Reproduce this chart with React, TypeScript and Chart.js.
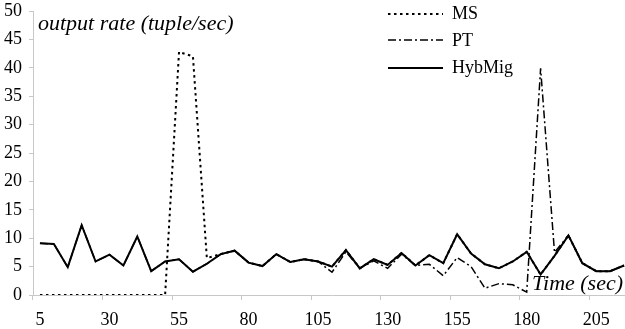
import React, { useEffect, useRef } from "react";
import { Chart, registerables } from "chart.js";

Chart.register(...registerables);

const times = [
  5, 10, 15, 20, 25, 30, 35, 40, 45, 50, 55, 60, 65, 70, 75, 80, 85, 90, 95, 100,
  105, 110, 115, 120, 125, 130, 135, 140, 145, 150, 155, 160, 165, 170, 175, 180,
  185, 190, 195, 200, 205, 210, 215,
];

const msValues = [
  0, 0, 0, 0, 0, 0, 0, 0, 0, 0, 42.8, 42.0, 6.5, 7.2, 7.8, 5.7, 5.1, 7.2, 5.8, 6.3,
  5.9, 5.0, 7.9, 4.7, 6.3, 5.3, 7.4, 5.2, 7.0, 5.6, 10.7, 7.3, 5.4, 4.7, 5.9, 7.6,
  3.6, 6.9, 10.5, 5.6, 4.2, 4.2, 5.2,
];

const ptValues = [
  9.1, 9.0, 4.9, 12.3, 5.9, 7.1, 5.2, 10.3, 4.2, 5.9, 6.3, 4.1, 5.5, 7.2, 7.8, 5.7,
  5.1, 7.2, 5.8, 6.3, 5.9, 4.0, 7.6, 4.7, 6.0, 4.7, 7.2, 5.2, 5.4, 3.4, 6.6, 5.0,
  1.2, 2.0, 1.8, 0.5, 39.9, 7.5, 10.5, 5.6, 4.2, 4.2, 5.2,
];

const hybValues = [
  9.1, 9.0, 4.9, 12.3, 5.9, 7.1, 5.2, 10.3, 4.2, 5.9, 6.3, 4.1, 5.5, 7.2, 7.8, 5.7,
  5.1, 7.2, 5.8, 6.3, 5.9, 5.0, 7.9, 4.7, 6.3, 5.3, 7.4, 5.2, 7.0, 5.6, 10.7, 7.3,
  5.4, 4.7, 5.9, 7.6, 3.6, 6.9, 10.5, 5.6, 4.2, 4.2, 5.2,
];

const seriesNames = ["MS", "PT", "HybMig"];
const yTitle = "output rate (tuple/sec)";
const xTitle = "Time (sec)";
const yMin = 0;
const yMax = 50;
const yStep = 5;
const labelEvery = 5;

const SERIF = '"Liberation Serif", "Times New Roman", serif';
const MS_DASH = [2.5, 3.5];
const PT_DASH = [8, 3, 2, 3];

const overlayPlugin = {
  id: "overlayText",
  afterDraw(chart: any) {
    const ctx = chart.ctx as CanvasRenderingContext2D;
    ctx.save();
    ctx.fillStyle = "#000";
    ctx.textBaseline = "alphabetic";
    ctx.textAlign = "left";
    ctx.font = `italic 22px ${SERIF}`;
    ctx.fillText(yTitle, 38, 30);
    ctx.fillText(xTitle, 532, 290);

    // legend
    const rows = [
      { name: seriesNames[0], dash: MS_DASH, width: 2, ly: 14, ty: 19 },
      { name: seriesNames[1], dash: PT_DASH, width: 1.5, ly: 40, ty: 46 },
      { name: seriesNames[2], dash: [] as number[], width: 2, ly: 68, ty: 73 },
    ];
    ctx.font = `18px ${SERIF}`;
    for (const r of rows) {
      ctx.beginPath();
      ctx.setLineDash(r.dash);
      ctx.lineWidth = r.width;
      ctx.strokeStyle = "#000";
      ctx.moveTo(388, r.ly);
      ctx.lineTo(443, r.ly);
      ctx.stroke();
      ctx.setLineDash([]);
      ctx.fillText(r.name, 452, r.ty);
    }
    ctx.restore();
  },
};

export default function App() {
  const canvasRef = useRef<HTMLCanvasElement | null>(null);

  useEffect(() => {
    const canvas = canvasRef.current;
    if (!canvas) return;
    const chart = new Chart(canvas, {
      type: "line",
      data: {
        labels: times.map(String),
        datasets: [
          {
            label: seriesNames[2],
            data: hybValues,
            borderColor: "#000",
            borderWidth: 2,
            pointRadius: 0,
            tension: 0,
            order: 0,
          },
          {
            label: seriesNames[1],
            data: ptValues,
            borderColor: "#000",
            borderWidth: 1.5,
            borderDash: PT_DASH,
            pointRadius: 0,
            tension: 0,
            order: 1,
          },
          {
            label: seriesNames[0],
            data: msValues,
            borderColor: "#000",
            borderWidth: 2,
            borderDash: MS_DASH,
            pointRadius: 0,
            tension: 0,
            order: 2,
          },
        ],
      },
      options: {
        responsive: false,
        animation: false,
        devicePixelRatio: 1,
        layout: { padding: { top: 11, right: 0, left: 0, bottom: 0 } },
        plugins: {
          legend: { display: false },
          tooltip: { enabled: false },
        },
        scales: {
          x: {
            type: "category",
            offset: true,
            grid: {
              offset: true,
              drawOnChartArea: false,
              drawTicks: true,
              tickLength: 5,
              tickColor: (c: any) =>
                c.index % labelEvery === 0 ? "#c8c8c8" : "rgba(0,0,0,0)",
            },
            border: { color: "#c8c8c8", width: 1 },
            ticks: {
              autoSkip: false,
              maxRotation: 0,
              minRotation: 0,
              color: "#000",
              padding: 9,
              font: { family: SERIF, size: 18 },
              callback: (_v: any, i: number) =>
                i % labelEvery === 0 ? String(times[i]) : "",
            },
            afterFit: (s: any) => {
              s.height = 34;
              s.paddingLeft = 0;
              s.paddingRight = 0;
            },
          },
          y: {
            min: yMin,
            max: yMax,
            grid: {
              drawOnChartArea: false,
              drawTicks: true,
              tickLength: 4,
              tickColor: "#c8c8c8",
            },
            border: { color: "#c8c8c8", width: 1 },
            ticks: {
              stepSize: yStep,
              color: "#000",
              padding: 7,
              font: { family: SERIF, size: 18 },
            },
            afterFit: (s: any) => {
              s.width = 33;
              s.paddingTop = 0;
              s.paddingBottom = 0;
            },
          },
        },
      },
      plugins: [overlayPlugin],
    });
    return () => chart.destroy();
  }, []);

  return (
    <div
      style={{
        position: "fixed",
        left: 0,
        top: 0,
        width: 625,
        height: 329,
        overflow: "hidden",
        background: "#fff",
      }}
    >
      <canvas
        ref={canvasRef}
        width={631}
        height={329}
        style={{ width: 631, height: 329, display: "block" }}
      />
    </div>
  );
}
